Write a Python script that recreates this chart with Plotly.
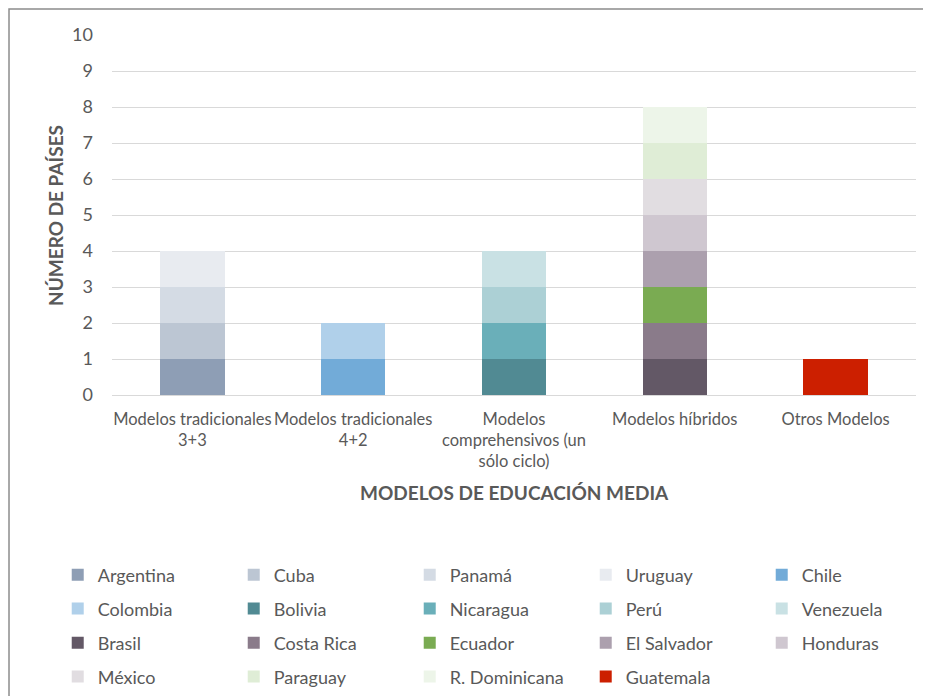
import plotly.graph_objects as go

# categories on the x axis
categorias = [
    "Modelos tradicionales<br>3+3",
    "Modelos tradicionales<br>4+2",
    "Modelos<br>comprehensivos (un<br>sólo ciclo)",
    "Modelos híbridos",
    "Otros Modelos",
]

# each country counts as one country in its model
paises = ["Argentina", "Cuba", "Panamá", "Uruguay", "Chile",
          "Colombia", "Bolivia", "Nicaragua", "Perú", "Venezuela",
          "Brasil", "Costa Rica", "Ecuador", "El Salvador", "Honduras",
          "México", "Paraguay", "R. Dominicana", "Guatemala"]
modelo = [0, 0, 0, 0, 1,
          1, 2, 2, 2, 2,
          3, 3, 3, 3, 3,
          3, 3, 3, 4]
valores = [1] * len(paises)
colores = ["#8E9EB5", "#BCC6D3", "#D4DBE4", "#E8EBF0", "#72ABD8",
           "#B0D0EA", "#518A93", "#6AAFB9", "#ACD0D5", "#C9E1E4",
           "#635866", "#8A7B8A", "#7AAB52", "#ACA0AE", "#CFC7D0",
           "#E1DDE1", "#DFEDD6", "#EDF5E9", "#CC1F00"]

FONT = "Lato"
GRIS = "#595959"

# legend rows (5 entries per row), one plotly legend per row
filas_y = [-0.5, -0.594, -0.689, -0.783]

fig = go.Figure()
for i, pais in enumerate(paises):
    fila = i // 5
    fig.add_trace(go.Bar(
        x=[categorias[modelo[i]]],
        y=[valores[i]],
        name=pais,
        marker_color=colores[i],
        marker_line_width=0,
        legend="legend" if fila == 0 else "legend%d" % (fila + 1),
    ))

legend_base = dict(
    orientation="h",
    x=-0.0675, xanchor="left",
    yanchor="middle",
    entrywidth=131,
    traceorder="normal",
    font=dict(family=FONT, size=18, color=GRIS),
    bgcolor="rgba(0,0,0,0)",
)
legends = {}
for k, yy in enumerate(filas_y):
    key = "legend" if k == 0 else "legend%d" % (k + 1)
    legends[key] = dict(legend_base, y=yy)

# the page adds an 8px body margin, so the margins are 8px smaller at top/left
fig.update_layout(
    barmode="stack",
    bargap=0.6,
    width=931,
    height=696,
    margin=dict(l=104, r=23, t=27, b=309, autoexpand=False),
    paper_bgcolor="white",
    plot_bgcolor="white",
    font=dict(family=FONT, color=GRIS),
    showlegend=True,
    **legends,
)

fig.update_xaxes(
    categoryorder="array", categoryarray=categorias,
    showline=False, showgrid=False, zeroline=False,
    tickfont=dict(family=FONT, size=16.5, color=GRIS),
    ticklabelstandoff=12,
)
fig.update_yaxes(
    range=[0, 10], dtick=1,
    showgrid=True, gridcolor="#D9D9D9", gridwidth=1,
    zeroline=True, zerolinecolor="#D9D9D9", zerolinewidth=1,
    showline=False,
    tickfont=dict(family=FONT, size=18, color=GRIS),
    ticklabelstandoff=18,
)

# axis titles
fig.add_annotation(
    text="<b>MODELOS DE EDUCACIÓN MEDIA</b>",
    xref="paper", yref="paper", x=0.5, y=-0.308,
    showarrow=False, font=dict(family=FONT, size=19, color=GRIS),
)
fig.add_annotation(
    text="<b>NÚMERO DE PAÍSES</b>",
    xref="paper", yref="paper", x=-0.0709, y=0.5, textangle=-90,
    xanchor="center", yanchor="middle",
    showarrow=False, font=dict(family=FONT, size=19, color=GRIS),
)

# frame around the chart (top and left edges fall just inside the figure)
fig.add_shape(
    type="rect", xref="paper", yref="paper",
    x0=-0.1281, x1=1.2, y0=-1.2, y1=1.0722,
    line=dict(color="#8C8C8C", width=1.5), fillcolor="rgba(0,0,0,0)",
    layer="above",
)

fig.write_html("out.html")
